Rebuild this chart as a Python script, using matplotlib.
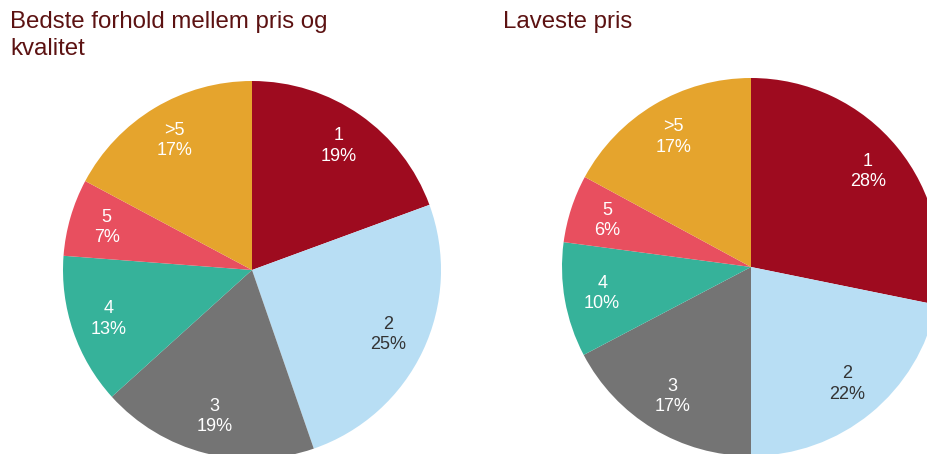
"""Pie charts: number of shops/offers considered, by motive"""
import matplotlib.pyplot as plt

plt.rcParams["font.family"] = ["Liberation Sans", "DejaVu Sans"]

categories = ["1", "2", "3", "4", "5", ">5"]
best_value = [19.4, 25.3, 18.6, 12.9, 6.6, 17.2]
lowest_price = [28.2, 21.8, 17.3, 9.8, 5.8, 17.1]
titles = ["Bedste forhold mellem pris og\nkvalitet", "Laveste pris"]

colors = ["#9E0B1F", "#B8DEF4", "#747474", "#36B29A", "#E84F5F", "#E5A42D"]
text_colors = ["white", "#333333", "white", "white", "white", "white"]

W, H = 928, 454
fig = plt.figure(figsize=(W / 100, H / 100), dpi=100)

# pie centre and radius in pixels (charts are cropped at the edges)
centres = [(252, 270), (751, 267)]
radius = 189
title_x = [10, 503]

for values, title, (cx, cy), tx in zip(
    [best_value, lowest_price], titles, centres, title_x
):
    ax = fig.add_axes(
        [(cx - radius) / W, (H - cy - radius) / H, 2 * radius / W, 2 * radius / H]
    )
    labels = [f"{c}\n{round(v):d}%" for c, v in zip(categories, values)]
    wedges, texts = ax.pie(
        values,
        colors=colors,
        startangle=90,
        counterclock=False,
        labels=labels,
        labeldistance=0.8,
        wedgeprops=dict(linewidth=0),
        textprops=dict(fontsize=13, ha="center", va="center", linespacing=1.25),
    )
    for t, c in zip(texts, text_colors):
        t.set_color(c)
        t.set_horizontalalignment("center")
    ax.set_xlim(-1, 1)
    ax.set_ylim(-1, 1)
    ax.set_aspect("auto")
    fig.text(
        tx / W,
        1 - 11 / H,
        title,
        fontsize=17.3,
        color="#5C1212",
        ha="left",
        va="top",
        linespacing=1.3,
    )

fig.savefig("out.png", dpi=100)
